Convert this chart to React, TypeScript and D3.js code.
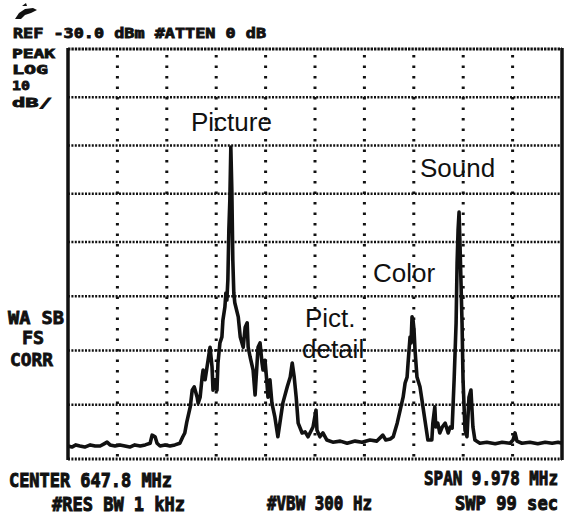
import React from "react";
import * as d3 from "d3";

// Spectrum analyser trace: frequency (MHz) and level (dBm)
const freqMHz = [
  642.81, 642.89, 642.97, 643.05, 643.15, 643.26, 643.36, 643.46, 643.54, 643.6,
  643.66, 643.76, 643.86, 643.96, 644.06, 644.16, 644.27, 644.37, 644.47, 644.51,
  644.57, 644.61, 644.67, 644.77, 644.87, 644.97, 645.07, 645.13, 645.17, 645.21,
  645.28, 645.32, 645.36, 645.42, 645.44, 645.48, 645.52, 645.54, 645.58, 645.62,
  645.64, 645.68, 645.72, 645.74, 645.78, 645.82, 645.84, 645.88, 645.92, 645.94,
  645.98, 646.0, 646.02, 646.04, 646.06, 646.08, 646.1, 646.12, 646.14, 646.16,
  646.18, 646.25, 646.29, 646.35, 646.39, 646.43, 646.45, 646.49, 646.55, 646.59,
  646.63, 646.65, 646.69, 646.73, 646.75, 646.79, 646.83, 646.85, 646.89, 646.93,
  646.99, 647.05, 647.15, 647.24, 647.3, 647.34, 647.38, 647.42, 647.46, 647.54,
  647.6, 647.66, 647.76, 647.82, 647.84, 647.9, 647.96, 648.04, 648.16, 648.31,
  648.45, 648.61, 648.75, 648.91, 649.05, 649.17, 649.23, 649.32, 649.38, 649.46,
  649.52, 649.58, 649.62, 649.66, 649.68, 649.72, 649.74, 649.76, 649.78, 649.8,
  649.82, 649.86, 649.92, 649.96, 650.02, 650.08, 650.16, 650.18, 650.22, 650.24,
  650.28, 650.32, 650.37, 650.43, 650.49, 650.53, 650.57, 650.61, 650.65, 650.67,
  650.69, 650.71, 650.73, 650.77, 650.79, 650.83, 650.87, 650.91, 650.95, 650.99,
  651.03, 651.13, 651.27, 651.44, 651.58, 651.74, 651.8, 651.84, 651.88, 651.98,
  652.14, 652.3, 652.45, 652.59, 652.71, 652.79,
];
const levelDBm = [
  -107.6, -107.8, -107.4, -107.6, -107.8, -107.4, -107.6, -107.6, -107.2, -106.9,
  -107.4, -107.6, -107.4, -107.6, -107.8, -107.4, -107.6, -107.4, -107.1, -105.6,
  -105.9, -107.1, -107.6, -107.4, -107.6, -107.4, -107.1, -105.9, -105.2, -103.2,
  -100.4, -97.3, -96.7, -98.6, -99.7, -98.6, -94.9, -93.6, -95.4, -93.0,
  -91.8, -89.4, -93.0, -97.3, -95.4, -97.3, -92.3, -88.6, -87.5, -84.4,
  -82.0, -79.4, -80.7, -77.0, -67.5, -61.3, -50.3, -59.2, -73.3, -79.4,
  -81.2, -83.8, -87.5, -89.4, -85.7, -84.9, -89.4, -91.2, -93.6, -98.2,
  -92.3, -89.4, -88.6, -92.3, -93.6, -91.8, -96.0, -98.6, -95.4, -99.7,
  -102.3, -105.9, -99.7, -96.7, -94.9, -92.3, -94.9, -98.6, -103.4, -105.2,
  -105.0, -105.9, -104.1, -101.0, -104.7, -105.9, -105.2, -106.5, -106.9, -106.7,
  -107.1, -106.7, -106.9, -106.5, -106.7, -105.6, -106.5, -106.3, -105.9, -103.4,
  -101.0, -98.6, -96.0, -94.9, -92.3, -87.5, -88.6, -83.8, -84.4, -86.2,
  -89.9, -94.9, -96.7, -99.1, -102.8, -106.5, -106.5, -103.4, -100.4, -104.1,
  -103.4, -105.2, -104.1, -103.4, -105.2, -104.1, -104.3, -95.4, -84.9, -73.9,
  -67.5, -63.8, -70.9, -84.9, -95.4, -104.7, -105.9, -98.6, -97.3, -104.1,
  -106.5, -107.1, -106.9, -107.2, -106.9, -107.1, -106.5, -105.2, -106.7, -107.1,
  -106.9, -107.2, -106.9, -107.1, -106.9, -107.1,
];

const centerMHz = 647.8;
const spanMHz = 9.978;
const refDBm = -30;
const dbPerDiv = 10;
const divisionsY = 8;
const divisionsX = 10;

const headerText = "REF -30.0 dBm #ATTEN 0 dB";
const leftLabels = ["PEAK", "LOG", "10", "dB/"];
const leftLabels2 = ["WA SB", "FS", "CORR"];
const footer = ["CENTER 647.8 MHz", "#RES BW 1 kHz", "#VBW 300 Hz", "SPAN 9.978 MHz", "SWP 99  sec"];
const annotations = ["Picture", "Sound", "Color", "Pict.", "detail"];

export default function App() {
  const W = 572, H = 524;
  const fStart = centerMHz - spanMHz / 2;
  const fStop = centerMHz + spanMHz / 2;
  const bottomDb = refDBm - dbPerDiv * divisionsY;
  const midDb = refDBm - (dbPerDiv * divisionsY) / 2;
  const x = d3.scaleLinear().domain([fStart, fStop]).range([68, 562]);
  const y = d3.scaleLinear().domain([refDBm, midDb, bottomDb]).range([49, 242, 459]);

  const hLevels = d3.range(divisionsY + 1).map((i) => refDBm - i * dbPerDiv);
  const vFreqs = d3.range(1, divisionsX).map((i) => fStart + (i * spanMHz) / divisionsX);

  const pts: [number, number][] = freqMHz.map((f, i) => [f, levelDBm[i]]);
  const line = d3
    .line<[number, number]>()
    .x((d) => x(d[0]))
    .y((d) => y(d[1]));

  const mono = "'DejaVu Sans Mono', monospace";
  const arial = "'Liberation Sans', Arial, sans-serif";
  const lab = (t: string, xx: number, yy: number, len: number, fs: number, sy = 1) => (
    <text
      key={t}
      transform={`translate(${xx},${yy}) scale(1,${sy})`}
      x={0}
      y={0}
      fontFamily={mono}
      fontWeight="bold"
      fontSize={fs}
      textLength={len}
      lengthAdjust="spacingAndGlyphs"
      fill="#111"
      stroke="#111"
      strokeWidth={0.8}
    >
      {t}
    </text>
  );

  return (
    <svg
      width={W}
      height={H}
      style={{ position: "absolute", left: 0, top: 0, background: "#fff" }}
    >
      <rect width={W} height={H} fill="#fff" />
      {/* logo */}
      <path d="M15,19 L19,13 L25,9 L33,8 L37,10 L31,13 L25,15 L21,19 Z M22,6 L26,3 L27,6 Z" fill="#111" />
      {lab(headerText, 13, 38, 253, 14)}
      {lab(leftLabels[0], 12, 58, 43, 13)}
      {lab(leftLabels[1], 12, 74, 36, 13)}
      {lab(leftLabels[2], 12, 90, 18, 13)}
      {lab(leftLabels[3], 12, 107, 40, 13)}
      {lab(leftLabels2[0], 8, 324, 56, 17)}
      {lab(leftLabels2[1], 22, 344, 22, 17)}
      {lab(leftLabels2[2], 10, 366, 43, 17)}

      {/* grid */}
      {hLevels.map((lv, i) => (
        <line
          key={"h" + i}
          x1={68}
          x2={562}
          y1={y(lv)}
          y2={y(lv)}
          stroke="#111"
          strokeWidth={i === 0 || i === divisionsY ? 3 : 2.6}
          strokeDasharray={i === 0 ? "2.4 1" : "2 1.4"}
        />
      ))}
      {vFreqs.map((f, i) => (
        <line
          key={"v" + i}
          x1={x(f)}
          x2={x(f)}
          y1={y(refDBm) + 6}
          y2={y(bottomDb)}
          stroke="#111"
          strokeWidth={3}
          strokeDasharray="2.5 8"
        />
      ))}
      <line x1={x(fStart)} x2={x(fStart)} y1={y(refDBm) - 1} y2={y(bottomDb) + 1} stroke="#111" strokeWidth={3.5} />
      <line x1={x(fStop)} x2={x(fStop)} y1={y(refDBm) - 1} y2={y(bottomDb) + 1} stroke="#111" strokeWidth={3.5} />

      {/* trace */}
      <path d={line(pts) || ""} fill="none" stroke="#111" strokeWidth={3.6} strokeLinejoin="round" />

      {/* annotations */}
      <text x={191} y={131} fontFamily={arial} fontSize={26} fill="#111">{annotations[0]}</text>
      <text x={420} y={177} fontFamily={arial} fontSize={26} fill="#111">{annotations[1]}</text>
      <text x={373} y={282} fontFamily={arial} fontSize={26} fill="#111">{annotations[2]}</text>
      <text x={305} y={327} fontFamily={arial} fontSize={26} fill="#111">{annotations[3]}</text>
      <text x={302} y={358} fontFamily={arial} fontSize={26} fill="#111">{annotations[4]}</text>

      {/* footer */}
      {lab(footer[0], 9, 487, 163, 16, 1.25)}
      {lab(footer[1], 52, 511, 133, 16, 1.25)}
      {lab(footer[2], 267, 510, 105, 16, 1.25)}
      {lab(footer[3], 424, 485, 134, 16, 1.25)}
      {lab(footer[4], 455, 510, 103, 16, 1.25)}
    </svg>
  );
}
